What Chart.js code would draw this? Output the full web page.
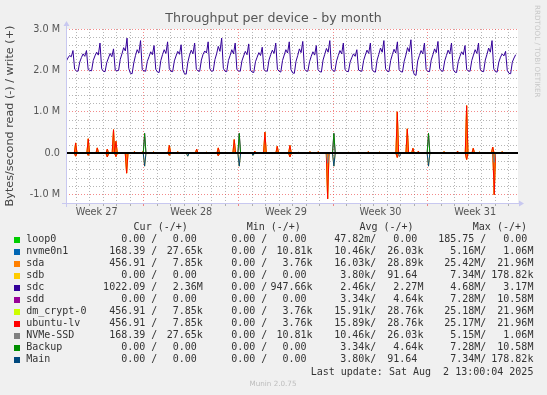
<!DOCTYPE html>
<html>
<head>
<meta charset="utf-8">
<script src="https://cdn.jsdelivr.net/npm/chart.js@4.4.1/dist/chart.umd.min.js"></script>
<style>
  html, body { margin: 0; padding: 0; background: #f0f0f0; }
  canvas { display: block; }
</style>
</head>
<body>
<canvas id="graph" width="547" height="395"></canvas>
<script>
// x values are days counted from Mon 30 Jun 2025 00:00
var xStart = 1.235;
var xEnd = 34.67;
var weekStarts = [7, 14, 21, 28];
var weekLabelDays = [3.5, 10.5, 17.5, 24.5, 31.5];
var weekLabels = ['Week 27', 'Week 28', 'Week 29', 'Week 30', 'Week 31'];
var yTickValues = [-1, 0, 1, 2, 3];
var yTickLabels = ['-1.0 M', '0.0', '1.0 M', '2.0 M', '3.0 M'];

var devices = ['loop0', 'nvme0n1', 'sda', 'sdb', 'sdc', 'sdd', 'dm_crypt-0', 'ubuntu-lv', 'NVMe-SSD', 'Backup', 'Main'];
var colors = ['#00CC00', '#0066B3', '#FF8000', '#FFCC00', '#330099', '#990099', '#CCFF00', '#FF0000', '#808080', '#008F00', '#00487D'];

// sdc write in MB/s, one row per day from Jul 1, samples at 00,03,...,21h
var sdcFirstDay = 1;
var sdcWrite = [
  [null, null, 2.22, 2.30, 2.36, 2.33, 2.48, 2.03],
  [1.99, 1.98, 2.20, 2.31, 2.40, 2.34, 2.48, 2.02],
  [2.00, 1.99, 2.24, 2.35, 2.44, 2.37, 2.66, 2.04],
  [1.98, 1.97, 2.19, 2.30, 2.41, 2.33, 2.52, 2.01],
  [1.99, 2.00, 2.27, 2.40, 2.55, 2.47, 2.78, 2.05],
  [1.93, 1.92, 2.18, 2.36, 2.50, 2.42, 2.72, 2.02],
  [1.99, 1.98, 2.22, 2.33, 2.45, 2.38, 2.60, 2.03],
  [1.96, 1.95, 2.24, 2.38, 2.50, 2.41, 2.69, 2.04],
  [1.98, 1.97, 2.23, 2.35, 2.46, 2.39, 2.62, 2.02],
  [1.92, 1.91, 2.20, 2.37, 2.49, 2.40, 2.66, 2.03],
  [1.99, 1.98, 2.25, 2.39, 2.47, 2.42, 2.69, 2.04],
  [1.98, 1.99, 2.26, 2.40, 2.58, 2.46, 2.78, 2.05],
  [1.98, 1.97, 2.24, 2.36, 2.50, 2.40, 2.66, 2.02],
  [1.99, 1.98, 2.23, 2.35, 2.46, 2.38, 2.64, 2.01],
  [1.96, 1.95, 2.21, 2.32, 2.43, 2.36, 2.56, 2.02],
  [1.99, 1.98, 2.25, 2.38, 2.49, 2.41, 2.66, 2.03],
  [1.98, 1.96, 2.24, 2.37, 2.50, 2.42, 2.69, 2.02],
  [1.94, 1.93, 2.22, 2.36, 2.52, 2.43, 2.70, 2.03],
  [1.99, 1.98, 2.21, 2.34, 2.45, 2.37, 2.60, 2.02],
  [1.97, 1.96, 2.25, 2.39, 2.53, 2.44, 2.72, 2.04],
  [1.99, 1.98, 2.23, 2.36, 2.48, 2.40, 2.66, 2.02],
  [1.98, 1.97, 2.20, 2.31, 2.40, 2.34, 2.50, 2.01],
  [1.99, 1.98, 2.24, 2.37, 2.49, 2.41, 2.66, 2.03],
  [1.97, 1.96, 2.25, 2.39, 2.54, 2.44, 2.72, 2.04],
  [1.98, 1.97, 2.24, 2.38, 2.51, 2.42, 2.69, 2.02],
  [1.97, 1.96, 2.22, 2.37, 2.55, 2.45, 2.74, 2.03],
  [1.90, 1.88, 2.23, 2.36, 2.48, 2.40, 2.66, 2.02],
  [1.98, 1.97, 2.25, 2.38, 2.52, 2.43, 2.70, 2.04],
  [1.99, 1.98, 2.23, 2.36, 2.49, 2.40, 2.66, 2.03],
  [1.96, 1.95, 2.21, 2.34, 2.45, 2.38, 2.60, 2.02],
  [1.99, 1.98, 2.24, 2.37, 2.50, 2.41, 2.66, 2.03],
  [1.98, 1.97, 2.25, 2.39, 2.54, 2.44, 2.72, 2.04],
  [1.97, 1.96, 2.20, 2.32, 2.40, 2.35, 2.46, 2.00],
  [1.93, 1.92, 2.20, 2.30, 2.38]
];

// short bursts, [day, MB/s]
var lvWriteSpikes = [
  [1.95, 0.25], [2.88, 0.35], [3.55, 0.13], [4.29, 0.10], [4.75, 0.57], [4.93, 0.29],
  [6.3, 0.04], [6.9, 0.03], [7.7, 0.03], [8.88, 0.19], [9.5, 0.04], [10.9, 0.10],
  [11.6, 0.03], [12.5, 0.13], [13.0, 0.03], [13.68, 0.33], [15.2, 0.05], [15.95, 0.51],
  [16.86, 0.17], [17.8, 0.19], [18.4, 0.03], [19.28, 0.04], [19.9, 0.04], [22.1, 0.03],
  [22.9, 0.03], [23.6, 0.04], [24.4, 0.03], [25.74, 1.00], [26.48, 0.59], [26.9, 0.12],
  [27.3, 0.05], [29.2, 0.04], [30.2, 0.05], [30.87, 1.15], [31.36, 0.12], [31.8, 0.03],
  [32.8, 0.15], [33.5, 0.04]
];
var lvReadSpikes = [
  [1.95, 0.07], [2.88, 0.05], [4.29, 0.09], [4.93, 0.08], [5.72, 0.48], [8.88, 0.05],
  [12.5, 0.06], [17.8, 0.09], [20.59, 1.10], [25.74, 0.10], [30.87, 0.15], [32.91, 1.00]
];
var nvmeReadSpikes = [[20.59, 0.24], [25.9, 0.08], [32.91, 0.22]];
var backupWriteSpikes = [[7.05, 0.48], [14.05, 0.48], [21.05, 0.48], [28.05, 0.48]];
var mainReadSpikes = [[7.05, 0.31], [10.24, 0.07], [14.05, 0.31], [15.07, 0.05], [21.05, 0.31], [28.05, 0.31]];

// legend table columns
var curRead = ['0.00 ', '168.39 ', '456.91 ', '0.00 ', '1022.09 ', '0.00 ', '456.91 ', '456.91 ', '168.39 ', '0.00 ', '0.00 '];
var curWrite = ['0.00 ', '27.65k', '7.85k', '0.00 ', '2.36M', '0.00 ', '7.85k', '7.85k', '27.65k', '0.00 ', '0.00 '];
var minRead = ['0.00 ', '0.00 ', '0.00 ', '0.00 ', '0.00 ', '0.00 ', '0.00 ', '0.00 ', '0.00 ', '0.00 ', '0.00 '];
var minWrite = ['0.00 ', '10.81k', '3.76k', '0.00 ', '947.66k', '0.00 ', '3.76k', '3.76k', '10.81k', '0.00 ', '0.00 '];
var avgRead = ['47.82m', '10.46k', '16.03k', '3.80k', '2.46k', '3.34k', '15.91k', '15.89k', '10.46k', '3.34k', '3.80k'];
var avgWrite = ['0.00 ', '26.03k', '28.89k', '91.64 ', '2.27M', '4.64k', '28.76k', '28.76k', '26.03k', '4.64k', '91.64 '];
var maxRead = ['185.75 ', '5.16M', '25.42M', '7.34M', '4.68M', '7.28M', '25.18M', '25.17M', '5.15M', '7.28M', '7.34M'];
var maxWrite = ['0.00 ', '1.06M', '21.96M', '178.82k', '3.17M', '10.58M', '21.96M', '21.96M', '1.06M', '10.58M', '178.82k'];

var lastUpdate = 'Last update: Sat Aug  2 13:00:04 2025';

var SANS = '"DejaVu Sans", sans-serif';
var MONO = '"DejaVu Sans Mono", monospace';
var spikeHalf = 0.1;
var minorGrid = 'rgba(110,110,110,0.5)';
var majorGrid = 'rgba(235,60,60,0.6)';

function sdcPoints() {
  var pts = [];
  sdcWrite.forEach(function(row, d) {
    row.forEach(function(v, i) {
      if (v !== null) pts.push({x: sdcFirstDay + d + i * 3 / 24, y: v});
    });
  });
  return pts;
}

function spikePoints(spikes, sign) {
  var list = spikes.slice().sort(function(a, b) { return a[0] - b[0]; });
  var pts = [{x: xStart, y: 0}];
  list.forEach(function(s, i) {
    var last = pts[pts.length - 1].x;
    if (s[0] - spikeHalf > last) pts.push({x: s[0] - spikeHalf, y: 0});
    pts.push({x: s[0], y: sign * s[1]});
    var next = i < list.length - 1 ? list[i + 1][0] - spikeHalf : Infinity;
    if (s[0] + spikeHalf < next) pts.push({x: s[0] + spikeHalf, y: 0});
  });
  pts.push({x: xEnd, y: 0});
  return pts;
}

var readSets = {nvme0n1: nvmeReadSpikes, sda: lvReadSpikes, sdb: mainReadSpikes, 'dm_crypt-0': lvReadSpikes,
  'ubuntu-lv': lvReadSpikes, 'NVMe-SSD': nvmeReadSpikes, Main: mainReadSpikes};
var writeSets = {sda: lvWriteSpikes, sdd: backupWriteSpikes, 'dm_crypt-0': lvWriteSpikes,
  'ubuntu-lv': lvWriteSpikes, Backup: backupWriteSpikes};

var datasets = [];
devices.forEach(function(name, i) {
  datasets.push({
    label: name + ' read',
    data: spikePoints(readSets[name] || [], -1),
    borderColor: colors[i],
    backgroundColor: colors[i],
    fill: name === 'sda' ? 'origin' : false,
    order: 100 - i
  });
  datasets.push({
    label: name + ' write',
    data: name === 'sdc' ? sdcPoints() : spikePoints(writeSets[name] || [], 1),
    borderColor: colors[i],
    backgroundColor: colors[i],
    fill: name === 'sda' ? 'origin' : false,
    order: 100 - i
  });
});

function isMajorY(v) { return Math.abs(v - Math.round(v)) < 1e-6; }

var muninPlugin = {
  id: 'munin',
  beforeDraw: function(chart) {
    var ctx = chart.ctx, a = chart.chartArea;
    ctx.save();
    ctx.fillStyle = '#f0f0f0';
    ctx.fillRect(0, 0, chart.width, chart.height);
    ctx.fillStyle = '#ffffff';
    ctx.fillRect(a.left, a.top, a.right - a.left, a.bottom - a.top);
    ctx.restore();
  },
  afterDatasetsDraw: function(chart) {
    var ctx = chart.ctx, a = chart.chartArea;
    var y0 = chart.scales.y.getPixelForValue(0);
    ctx.save();
    // zero rule
    ctx.fillStyle = '#000000';
    ctx.fillRect(a.left, Math.round(y0) - 1, a.right - a.left, 2);
    // axes with arrows
    ctx.strokeStyle = '#c8c8f0';
    ctx.fillStyle = '#c8c8f0';
    ctx.lineWidth = 1;
    ctx.beginPath();
    ctx.moveTo(a.left - 4, a.bottom + 0.5);
    ctx.lineTo(a.right + 2, a.bottom + 0.5);
    ctx.moveTo(a.left + 0.5, a.bottom + 4);
    ctx.lineTo(a.left + 0.5, a.top - 4);
    ctx.stroke();
    ctx.beginPath();
    ctx.moveTo(a.right + 6, a.bottom + 0.5);
    ctx.lineTo(a.right + 1, a.bottom - 2.5);
    ctx.lineTo(a.right + 1, a.bottom + 3.5);
    ctx.closePath();
    ctx.fill();
    ctx.beginPath();
    ctx.moveTo(a.left + 0.5, a.top - 8);
    ctx.lineTo(a.left - 2.5, a.top - 3);
    ctx.lineTo(a.left + 3.5, a.top - 3);
    ctx.closePath();
    ctx.fill();
    ctx.restore();
  },
  afterDraw: function(chart) {
    var ctx = chart.ctx;
    ctx.save();
    // title
    ctx.fillStyle = '#555555';
    ctx.font = '12.6px ' + SANS;
    ctx.textAlign = 'center';
    ctx.textBaseline = 'middle';
    ctx.fillText('Throughput per device - by month', 273.5, 19);

    // legend table
    ctx.fillStyle = '#333333';
    ctx.font = '10px ' + MONO;
    ctx.textAlign = 'left';
    ['Cur (-/+)', 'Min (-/+)', 'Avg (-/+)', 'Max (-/+)'].forEach(function(h, k) {
      ctx.fillText(h, [133.6, 246.7, 359.4, 472.8][k], 227);
    });
    var readEnd = [157.3, 267.3, 376.3, 486.3];
    var writeEnd = [202.8, 312.6, 423.4, 533.4];
    var cols = [[curRead, curWrite], [minRead, minWrite], [avgRead, avgWrite], [maxRead, maxWrite]];
    devices.forEach(function(name, i) {
      var y = 239.7 + 12 * i;
      ctx.fillStyle = colors[i];
      ctx.fillRect(14, Math.round(y) - 3, 6, 6);
      ctx.fillStyle = '#333333';
      ctx.textAlign = 'left';
      ctx.fillText(name, 26.2, y);
      ctx.textAlign = 'right';
      cols.forEach(function(c, k) {
        ctx.fillText(c[0][i] + '/', readEnd[k], y);
        ctx.fillText(c[1][i], writeEnd[k], y);
      });
    });
    ctx.textAlign = 'right';
    ctx.fillText(lastUpdate, 533.4, 372);

    // watermarks
    ctx.fillStyle = '#bdbdbd';
    ctx.font = '7.2px ' + SANS;
    ctx.textAlign = 'center';
    ctx.fillText('Munin 2.0.75', 273, 384);
    ctx.translate(537, 5);
    ctx.rotate(Math.PI / 2);
    ctx.textAlign = 'left';
    ctx.fillStyle = '#c8c8c8';
    ctx.fillText('RRDTOOL / TOBI OETIKER', 0, 0);
    ctx.restore();
  }
};

new Chart(document.getElementById('graph'), {
  type: 'line',
  data: {datasets: datasets},
  plugins: [muninPlugin],
  options: {
    responsive: false,
    animation: false,
    devicePixelRatio: 1,
    layout: {padding: {left: 0, right: 29, top: 29, bottom: 172}},
    elements: {
      point: {radius: 0},
      line: {borderWidth: 1, tension: 0}
    },
    plugins: {
      legend: {display: false},
      tooltip: {enabled: false},
      title: {display: false}
    },
    scales: {
      x: {
        type: 'linear',
        min: xStart,
        max: xEnd,
        afterFit: function(s) { s.height = 20; },
        afterBuildTicks: function(s) {
          var t = [];
          for (var d = 2; d <= 34; d++) t.push({value: d});
          weekLabelDays.forEach(function(d) { t.push({value: d}); });
          t.sort(function(a, b) { return a.value - b.value; });
          s.ticks = t;
        },
        ticks: {
          autoSkip: false,
          maxRotation: 0,
          padding: 1,
          color: '#555555',
          font: {family: SANS, size: 9.7},
          callback: function(v) {
            var k = weekLabelDays.indexOf(v);
            return k >= 0 ? weekLabels[k] : '';
          }
        },
        grid: {
          tickLength: 3,
          lineWidth: 1,
          color: function(c) {
            var v = c.tick.value;
            if (weekStarts.indexOf(v) >= 0) return majorGrid;
            if (Number.isInteger(v)) return minorGrid;
            return 'rgba(0,0,0,0)';
          },
          tickColor: function(c) {
            var v = c.tick.value;
            if (weekStarts.indexOf(v) >= 0) return majorGrid;
            if (Number.isInteger(v)) return minorGrid;
            return 'rgba(0,0,0,0)';
          }
        },
        border: {display: false, dash: [1, 2]}
      },
      y: {
        min: -1.2,
        max: 3.0,
        afterFit: function(s) { s.width = 66; },
        afterBuildTicks: function(s) {
          var t = [];
          for (var k = -12; k <= 30; k += 2) t.push({value: k / 10});
          s.ticks = t;
        },
        title: {
          display: true,
          text: 'Bytes/second read (-) / write (+)',
          color: '#444444',
          font: {family: SANS, size: 11.2},
          padding: {top: 3.3, bottom: 0}
        },
        ticks: {
          autoSkip: false,
          padding: 6,
          color: '#555555',
          font: {family: SANS, size: 9.7},
          callback: function(v) {
            for (var k = 0; k < yTickValues.length; k++) {
              if (Math.abs(v - yTickValues[k]) < 1e-6) return yTickLabels[k];
            }
            return '';
          }
        },
        grid: {
          drawTicks: false,
          lineWidth: 1,
          color: function(c) {
            return isMajorY(c.tick.value) ? majorGrid : minorGrid;
          }
        },
        border: {display: false, dash: [1, 2]}
      }
    }
  }
});
</script>
</body>
</html>
